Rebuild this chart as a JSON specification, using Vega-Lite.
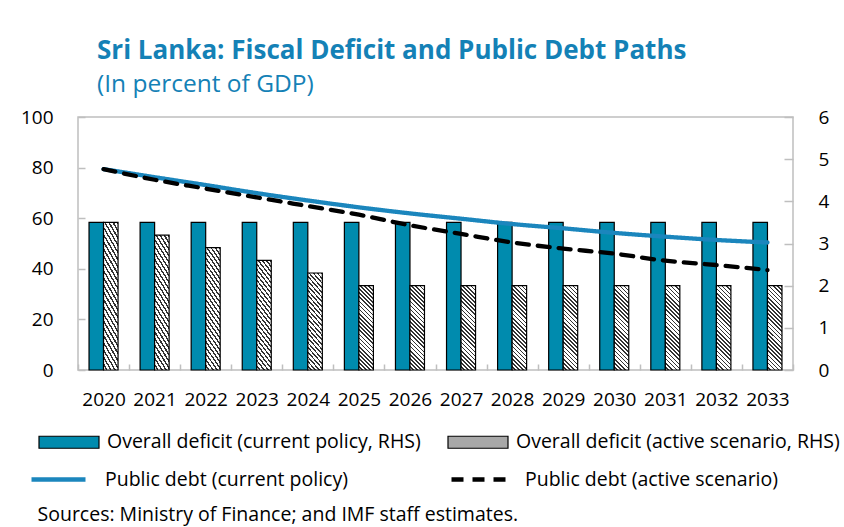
{
  "$schema": "https://vega.github.io/schema/vega-lite/v6.json",
  "autosize": {"type": "none"},
  "width": 715,
  "height": 253,
  "padding": {"left": 78, "top": 117, "right": 51, "bottom": 157},
  "background": "#ffffff",
  "title": {
    "text": "Sri Lanka: Fiscal Deficit and Public Debt Paths",
    "subtitle": "(In percent of GDP)",
    "anchor": "start",
    "frame": "group",
    "dx": 19,
    "offset": 12,
    "font": "Open Sans",
    "fontSize": 26,
    "fontWeight": "bold",
    "color": "#1481B6",
    "subtitleFont": "Open Sans",
    "subtitleFontSize": 24.5,
    "subtitleFontWeight": "normal",
    "subtitleColor": "#1481B6",
    "subtitlePadding": 8.5
  },
  "data": {
    "values": [
      {"year": "2020", "series": "Overall deficit (current policy, RHS)", "value": 3.5},
      {"year": "2021", "series": "Overall deficit (current policy, RHS)", "value": 3.5},
      {"year": "2022", "series": "Overall deficit (current policy, RHS)", "value": 3.5},
      {"year": "2023", "series": "Overall deficit (current policy, RHS)", "value": 3.5},
      {"year": "2024", "series": "Overall deficit (current policy, RHS)", "value": 3.5},
      {"year": "2025", "series": "Overall deficit (current policy, RHS)", "value": 3.5},
      {"year": "2026", "series": "Overall deficit (current policy, RHS)", "value": 3.5},
      {"year": "2027", "series": "Overall deficit (current policy, RHS)", "value": 3.5},
      {"year": "2028", "series": "Overall deficit (current policy, RHS)", "value": 3.5},
      {"year": "2029", "series": "Overall deficit (current policy, RHS)", "value": 3.5},
      {"year": "2030", "series": "Overall deficit (current policy, RHS)", "value": 3.5},
      {"year": "2031", "series": "Overall deficit (current policy, RHS)", "value": 3.5},
      {"year": "2032", "series": "Overall deficit (current policy, RHS)", "value": 3.5},
      {"year": "2033", "series": "Overall deficit (current policy, RHS)", "value": 3.5},
      {"year": "2020", "series": "Overall deficit (active scenario, RHS)", "value": 3.5},
      {"year": "2021", "series": "Overall deficit (active scenario, RHS)", "value": 3.2},
      {"year": "2022", "series": "Overall deficit (active scenario, RHS)", "value": 2.9},
      {"year": "2023", "series": "Overall deficit (active scenario, RHS)", "value": 2.6},
      {"year": "2024", "series": "Overall deficit (active scenario, RHS)", "value": 2.3},
      {"year": "2025", "series": "Overall deficit (active scenario, RHS)", "value": 2.0},
      {"year": "2026", "series": "Overall deficit (active scenario, RHS)", "value": 2.0},
      {"year": "2027", "series": "Overall deficit (active scenario, RHS)", "value": 2.0},
      {"year": "2028", "series": "Overall deficit (active scenario, RHS)", "value": 2.0},
      {"year": "2029", "series": "Overall deficit (active scenario, RHS)", "value": 2.0},
      {"year": "2030", "series": "Overall deficit (active scenario, RHS)", "value": 2.0},
      {"year": "2031", "series": "Overall deficit (active scenario, RHS)", "value": 2.0},
      {"year": "2032", "series": "Overall deficit (active scenario, RHS)", "value": 2.0},
      {"year": "2033", "series": "Overall deficit (active scenario, RHS)", "value": 2.0},
      {"year": "2020", "series": "Public debt (current policy)", "value": 79.4},
      {"year": "2021", "series": "Public debt (current policy)", "value": 76.2},
      {"year": "2022", "series": "Public debt (current policy)", "value": 73.1},
      {"year": "2023", "series": "Public debt (current policy)", "value": 69.9},
      {"year": "2024", "series": "Public debt (current policy)", "value": 67.0},
      {"year": "2025", "series": "Public debt (current policy)", "value": 64.3},
      {"year": "2026", "series": "Public debt (current policy)", "value": 61.9},
      {"year": "2027", "series": "Public debt (current policy)", "value": 59.8},
      {"year": "2028", "series": "Public debt (current policy)", "value": 57.7},
      {"year": "2029", "series": "Public debt (current policy)", "value": 56.0},
      {"year": "2030", "series": "Public debt (current policy)", "value": 54.2},
      {"year": "2031", "series": "Public debt (current policy)", "value": 52.7},
      {"year": "2032", "series": "Public debt (current policy)", "value": 51.4},
      {"year": "2033", "series": "Public debt (current policy)", "value": 50.4},
      {"year": "2020", "series": "Public debt (active scenario)", "value": 79.4},
      {"year": "2021", "series": "Public debt (active scenario)", "value": 75.2},
      {"year": "2022", "series": "Public debt (active scenario)", "value": 71.7},
      {"year": "2023", "series": "Public debt (active scenario)", "value": 68.2},
      {"year": "2024", "series": "Public debt (active scenario)", "value": 64.8},
      {"year": "2025", "series": "Public debt (active scenario)", "value": 61.4},
      {"year": "2026", "series": "Public debt (active scenario)", "value": 57.2},
      {"year": "2027", "series": "Public debt (active scenario)", "value": 53.8},
      {"year": "2028", "series": "Public debt (active scenario)", "value": 50.4},
      {"year": "2029", "series": "Public debt (active scenario)", "value": 48.0},
      {"year": "2030", "series": "Public debt (active scenario)", "value": 46.0},
      {"year": "2031", "series": "Public debt (active scenario)", "value": 43.2},
      {"year": "2032", "series": "Public debt (active scenario)", "value": 41.5},
      {"year": "2033", "series": "Public debt (active scenario)", "value": 39.5}
    ]
  },
  "encoding": {
    "x": {
      "field": "year",
      "type": "ordinal",
      "scale": {"paddingInner": 0, "paddingOuter": 0},
      "axis": {
        "title": "Sources: Ministry of Finance; and IMF staff estimates.",
        "titleX": -41,
        "titleY": 150,
        "titleAlign": "left",
        "titleBaseline": "alphabetic",
        "titleFont": "Open Sans",
        "titleFontSize": 19.5,
        "titleFontWeight": "normal",
        "titleColor": "#000000",
        "labelAngle": 0,
        "labelFont": "Open Sans",
        "labelFontSize": 19,
        "labelColor": "#000000",
        "labelPadding": 26,
        "domain": false,
        "grid": false,
        "tickBand": "extent",
        "tickSize": -6,
        "tickColor": "#BFBFBF",
        "tickWidth": 1.5
      }
    }
  },
  "layer": [
    {
      "transform": [{"filter": {"field": "series", "oneOf": ["Overall deficit (current policy, RHS)", "Overall deficit (active scenario, RHS)"]}}],
      "mark": {"type": "bar", "stroke": "#000000", "strokeWidth": 1.2},
      "encoding": {
        "xOffset": {
          "field": "series",
          "type": "nominal",
          "scale": {"domain": ["Overall deficit (current policy, RHS)", "Overall deficit (active scenario, RHS)"], "paddingInner": 0, "paddingOuter": 0.76}
        },
        "y": {
          "field": "value",
          "type": "quantitative",
          "scale": {"domain": [0, 6], "nice": false},
          "axis": {
            "orient": "right",
            "values": [0, 1, 2, 3, 4, 5, 6],
            "title": null,
            "domain": false,
            "grid": false,
            "tickSize": -9,
            "tickColor": "#BFBFBF",
            "tickWidth": 1.5,
            "labelPadding": 34,
            "labelFlush": false,
            "labelFont": "Open Sans",
            "labelFontSize": 19,
            "labelColor": "#000000"
          }
        },
        "fill": {
          "field": "series",
          "type": "nominal",
          "condition": {
            "test": "datum.series === 'Overall deficit (active scenario, RHS)'",
            "value": {
              "gradient": "linear", "x1": 0, "y1": 1, "x2": 0.1958, "y2": -0.1383,
              "stops": [
                {"offset":0,"color":"#fff"},{"offset":0.025,"color":"#fff"},{"offset":0.025,"color":"#333"},{"offset":0.0417,"color":"#333"},
                {"offset":0.0417,"color":"#fff"},{"offset":0.0667,"color":"#fff"},{"offset":0.0667,"color":"#333"},{"offset":0.0833,"color":"#333"},
                {"offset":0.0833,"color":"#fff"},{"offset":0.1083,"color":"#fff"},{"offset":0.1083,"color":"#333"},{"offset":0.125,"color":"#333"},
                {"offset":0.125,"color":"#fff"},{"offset":0.15,"color":"#fff"},{"offset":0.15,"color":"#333"},{"offset":0.1667,"color":"#333"},
                {"offset":0.1667,"color":"#fff"},{"offset":0.1917,"color":"#fff"},{"offset":0.1917,"color":"#333"},{"offset":0.2083,"color":"#333"},
                {"offset":0.2083,"color":"#fff"},{"offset":0.2333,"color":"#fff"},{"offset":0.2333,"color":"#333"},{"offset":0.25,"color":"#333"},
                {"offset":0.25,"color":"#fff"},{"offset":0.275,"color":"#fff"},{"offset":0.275,"color":"#333"},{"offset":0.2917,"color":"#333"},
                {"offset":0.2917,"color":"#fff"},{"offset":0.3167,"color":"#fff"},{"offset":0.3167,"color":"#333"},{"offset":0.3333,"color":"#333"},
                {"offset":0.3333,"color":"#fff"},{"offset":0.3583,"color":"#fff"},{"offset":0.3583,"color":"#333"},{"offset":0.375,"color":"#333"},
                {"offset":0.375,"color":"#fff"},{"offset":0.4,"color":"#fff"},{"offset":0.4,"color":"#333"},{"offset":0.4167,"color":"#333"},
                {"offset":0.4167,"color":"#fff"},{"offset":0.4417,"color":"#fff"},{"offset":0.4417,"color":"#333"},{"offset":0.4583,"color":"#333"},
                {"offset":0.4583,"color":"#fff"},{"offset":0.4833,"color":"#fff"},{"offset":0.4833,"color":"#333"},{"offset":0.5,"color":"#333"},
                {"offset":0.5,"color":"#fff"},{"offset":0.525,"color":"#fff"},{"offset":0.525,"color":"#333"},{"offset":0.5417,"color":"#333"},
                {"offset":0.5417,"color":"#fff"},{"offset":0.5667,"color":"#fff"},{"offset":0.5667,"color":"#333"},{"offset":0.5833,"color":"#333"},
                {"offset":0.5833,"color":"#fff"},{"offset":0.6083,"color":"#fff"},{"offset":0.6083,"color":"#333"},{"offset":0.625,"color":"#333"},
                {"offset":0.625,"color":"#fff"},{"offset":0.65,"color":"#fff"},{"offset":0.65,"color":"#333"},{"offset":0.6667,"color":"#333"},
                {"offset":0.6667,"color":"#fff"},{"offset":0.6917,"color":"#fff"},{"offset":0.6917,"color":"#333"},{"offset":0.7083,"color":"#333"},
                {"offset":0.7083,"color":"#fff"},{"offset":0.7333,"color":"#fff"},{"offset":0.7333,"color":"#333"},{"offset":0.75,"color":"#333"},
                {"offset":0.75,"color":"#fff"},{"offset":0.775,"color":"#fff"},{"offset":0.775,"color":"#333"},{"offset":0.7917,"color":"#333"},
                {"offset":0.7917,"color":"#fff"},{"offset":0.8167,"color":"#fff"},{"offset":0.8167,"color":"#333"},{"offset":0.8333,"color":"#333"},
                {"offset":0.8333,"color":"#fff"},{"offset":0.8583,"color":"#fff"},{"offset":0.8583,"color":"#333"},{"offset":0.875,"color":"#333"},
                {"offset":0.875,"color":"#fff"},{"offset":0.9,"color":"#fff"},{"offset":0.9,"color":"#333"},{"offset":0.9167,"color":"#333"},
                {"offset":0.9167,"color":"#fff"},{"offset":0.9417,"color":"#fff"},{"offset":0.9417,"color":"#333"},{"offset":0.9583,"color":"#333"},
                {"offset":0.9583,"color":"#fff"},{"offset":0.9833,"color":"#fff"},{"offset":0.9833,"color":"#333"},{"offset":1,"color":"#333"}
              ]
            }
          },
          "scale": {
            "domain": ["Overall deficit (current policy, RHS)", "Overall deficit (active scenario, RHS)"],
            "range": ["#008BAE", "#A8A8A8"]
          },
          "legend": {
            "title": null,
            "orient": "none",
            "legendX": -40,
            "legendY": 314,
            "direction": "horizontal",
            "columns": 2,
            "columnPadding": 24,
            "padding": 0,
            "symbolSize": 400,
            "symbolType": "M-1,-0.6H5V0.6H-1Z",
            "symbolStrokeWidth": 1.2,
            "symbolStrokeColor": "#000000",
            "labelOffset": 47,
            "labelFont": "Open Sans",
            "labelFontSize": 19.5,
            "labelColor": "#000000",
            "labelLimit": 500
          }
        }
      }
    },
    {
      "transform": [{"filter": {"field": "series", "oneOf": ["Public debt (current policy)", "Public debt (active scenario)"]}}],
      "mark": {"type": "line", "strokeWidth": 4.3, "interpolate": "monotone", "strokeCap": "round"},
      "encoding": {
        "y": {
          "field": "value",
          "type": "quantitative",
          "scale": {"domain": [0, 100], "nice": false},
          "axis": {
            "orient": "left",
            "values": [0, 20, 40, 60, 80, 100],
            "title": null,
            "domain": false,
            "grid": false,
            "tickSize": -7,
            "tickColor": "#BFBFBF",
            "tickWidth": 1.5,
            "labelPadding": 32,
            "labelFlush": false,
            "labelFont": "Open Sans",
            "labelFontSize": 19,
            "labelColor": "#000000"
          }
        },
        "stroke": {
          "field": "series",
          "type": "nominal",
          "scale": {
            "domain": ["Public debt (current policy)", "Public debt (active scenario)"],
            "range": ["#1B86BD", "#000000"]
          },
          "legend": {
            "title": null,
            "orient": "none",
            "legendX": -49,
            "legendY": 350,
            "direction": "horizontal",
            "columns": 2,
            "columnPadding": 94,
            "padding": 0,
            "symbolSize": 400,
            "symbolType": "M-1,0H4.4",
            "symbolStrokeWidth": 4.3,
            "labelOffset": 51,
            "labelFont": "Open Sans",
            "labelFontSize": 19.5,
            "labelColor": "#000000",
            "labelLimit": 500
          }
        },
        "strokeDash": {
          "field": "series",
          "type": "nominal",
          "scale": {
            "domain": ["Public debt (current policy)", "Public debt (active scenario)"],
            "range": [[1, 0], [12, 9]]
          },
          "legend": {
            "title": null,
            "orient": "none",
            "legendX": -49,
            "legendY": 350,
            "direction": "horizontal",
            "columns": 2,
            "columnPadding": 94,
            "padding": 0,
            "symbolSize": 400,
            "symbolType": "M-1,0H4.4",
            "symbolStrokeWidth": 4.3,
            "labelOffset": 51,
            "labelFont": "Open Sans",
            "labelFontSize": 19.5,
            "labelColor": "#000000",
            "labelLimit": 500
          }
        }
      }
    }
  ],
  "resolve": {"scale": {"y": "independent"}, "axis": {"y": "independent"}},
  "config": {
    "font": "Open Sans",
    "view": {"stroke": "#BFBFBF", "strokeWidth": 1.5}
  }
}
